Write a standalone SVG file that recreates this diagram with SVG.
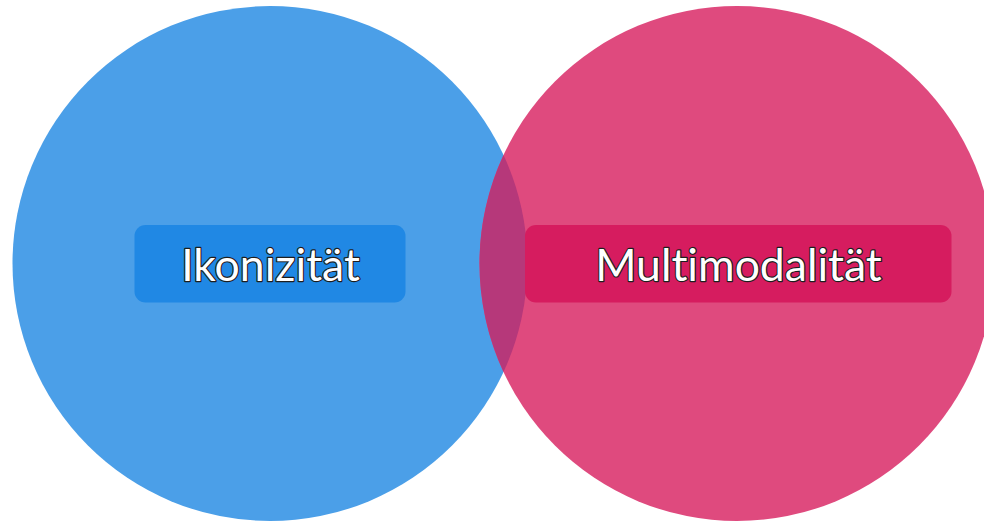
<svg xmlns="http://www.w3.org/2000/svg" width="984" height="524" viewBox="0 0 984 524">
  <style>
    .label { font-family: Lato, "Noto Sans", sans-serif; font-size: 44.5px; fill: #ffffff; stroke: #1e1e1e; stroke-width: 2.4px; paint-order: stroke; stroke-linejoin: round; text-anchor: middle; font-variant-ligatures: none; }
  </style>
  <rect width="984" height="524" fill="#ffffff"/>
  <g id="set-ikonizitaet">
    <circle cx="270" cy="263.5" r="257.5" fill="#4b9fe8"/>
  </g>
  <g id="set-multimodalitaet">
    <circle cx="737" cy="263.5" r="257.5" fill="#df4a7e"/>
  </g>
  <g id="overlap">
    <path d="M503.5,155 A257.5,257.5 0 0 1 503.5,372 A257.5,257.5 0 0 1 503.5,155 Z" fill="#b6387a"/>
  </g>
  <g id="label-ikonizitaet">
    <rect x="134.5" y="225" width="271" height="77.5" rx="11" fill="#2088e4"/>
    <text class="label" x="270.5" y="281">Ikonizität</text>
  </g>
  <g id="label-multimodalitaet">
    <rect x="525" y="225" width="426.5" height="77.5" rx="11" fill="#d61c5f"/>
    <text class="label" x="738.5" y="281">Multimodalität</text>
  </g>
</svg>
